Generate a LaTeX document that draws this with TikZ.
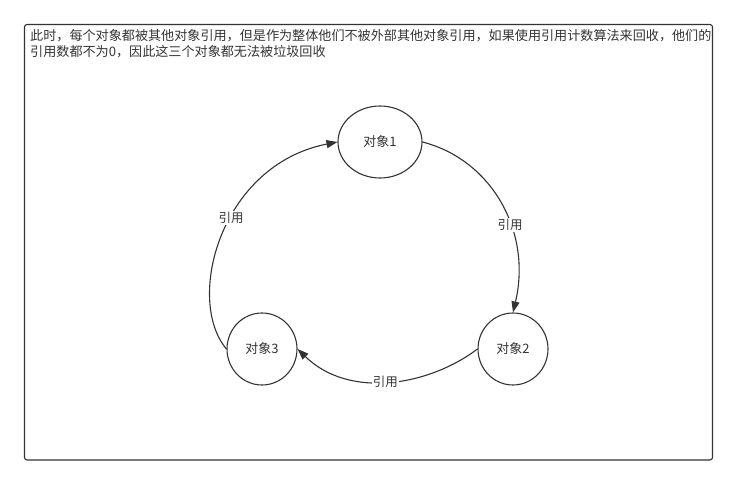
\documentclass[tikz,border=0pt]{standalone}
\usepackage{fontspec}
\setmainfont{Noto Sans CJK SC}
\usetikzlibrary{shapes.geometric,arrows.meta}
\definecolor{ink}{HTML}{333333}
\definecolor{txt}{HTML}{333333}
\tikzset{
  obj/.style={draw=ink, line width=1.1pt, ellipse, fill=white, inner sep=0pt,
    font=\fontsize{13}{15}\selectfont, text=txt},
  ref/.style={draw=ink, line width=1.1pt, -{Triangle[length=11pt,width=8pt]}},
  lbl/.style={fill=white, inner sep=1pt, font=\fontsize{12.5}{14}\selectfont, text=txt},
  frame/.style={draw=ink, line width=1.1pt, rounded corners=2.5pt}
}
\begin{document}
\begin{tikzpicture}[x=1pt,y=-1pt]
\useasboundingbox (0,0) rectangle (739,486);
\draw[frame] (24.5,24.5) rectangle (712.5,460);
\node[anchor=north west, align=left, inner sep=0pt, text=txt,
      font=\fontsize{13.1}{15.5}\selectfont] (desc) at (30,29.5)
  {此时，每个对象都被其他对象引用，但是作为整体他们不被外部其他对象引用，如果使用引用计数算法来回收，他们的\\引用数都不为0，因此这三个对象都无法被垃圾回收};
\node[obj, minimum width=84pt, minimum height=72pt] (o1) at (380,142) {对象1};
\node[obj, minimum width=70pt, minimum height=72pt] (o2) at (513,349) {对象2};
\node[obj, minimum width=70pt, minimum height=72pt] (o3) at (262,349) {对象3};
\draw[ref] (o1.east) .. controls (492,160) and (532,232) .. (o2.north)
  node[lbl, pos=0.61] (l12) {引用};
\draw[ref] (o2.west) .. controls (430,385) and (350,400) .. (o3.east)
  node[lbl, pos=0.52] (l23) {引用};
\draw[ref] (o3.west) .. controls (185,300) and (220,165) .. (o1.west)
  node[lbl, pos=0.57] (l31) {引用};
\end{tikzpicture}
\end{document}
